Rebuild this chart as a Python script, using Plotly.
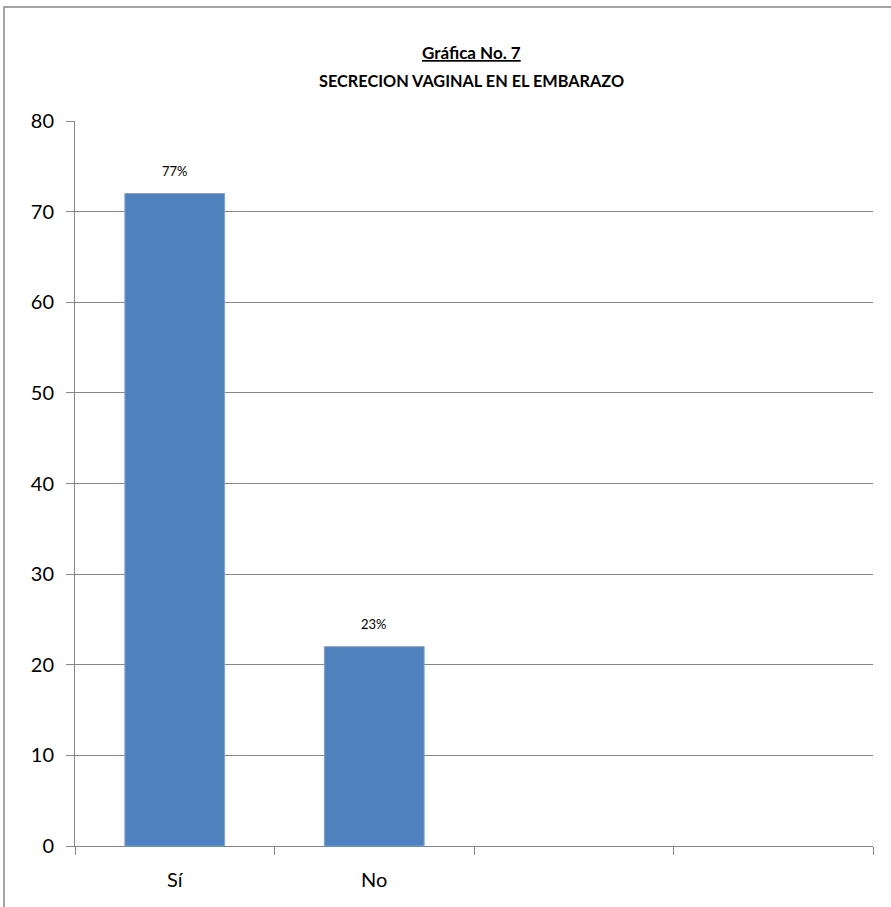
import plotly.graph_objects as go

categories = ["Sí", "No", " ", "  "]
bar_categories = ["Sí", "No"]
values = [72, 22]
pct_labels = ["77%", "23%"]
y_ticks = [0, 10, 20, 30, 40, 50, 60, 70, 80]

W, H = 891, 907
L, R, T, B = 75, 18, 121, 61
pw = W - L - R
ph = H - T - B

font_fam = "Lato, Open Sans, sans-serif"

fig = go.Figure()
fig.add_trace(go.Bar(
    x=bar_categories, y=values,
    marker=dict(color="#4F81BD", line=dict(color="#7FA3D3", width=1)),
    width=0.5, hoverinfo="skip",
))

for c, v, t in zip(bar_categories, values, pct_labels):
    fig.add_annotation(x=c, y=v, text=t, showarrow=False, yanchor="bottom",
                       yshift=13, font=dict(family=font_fam, size=13, color="#000"))

title_x = (471 - L) / pw
fig.add_annotation(xref="paper", yref="paper", x=title_x, y=1 + (T - 52) / ph,
                   text="<b><u>Gráfica No. 7</u></b>", showarrow=False, yanchor="middle",
                   font=dict(family=font_fam, size=17, color="#000"))
fig.add_annotation(xref="paper", yref="paper", x=title_x, y=1 + (T - 81) / ph,
                   text="<b>SECRECION VAGINAL EN EL EMBARAZO</b>", showarrow=False, yanchor="middle",
                   font=dict(family=font_fam, size=16.3, color="#000"))

# outer frame (chart area border, cut off at right and bottom)
fig.add_shape(type="rect", xref="paper", yref="paper",
              x0=(4 - L) / pw, x1=(W + 10 - L) / pw,
              y0=1 + (T - H - 10) / ph, y1=1 + (T - 7) / ph,
              line=dict(color="#868686", width=1.5), layer="below")

fig.update_layout(
    width=W, height=H,
    margin=dict(l=L, r=R, t=T, b=B, pad=0),
    paper_bgcolor="white", plot_bgcolor="white",
    showlegend=False,
    font=dict(family=font_fam, color="#000"),
    xaxis=dict(
        type="category", categoryorder="array", categoryarray=categories,
        range=[-0.5, 3.5], tickson="boundaries", ticks="outside", ticklen=8,
        tickcolor="#868686", showline=True, linecolor="#868686", linewidth=1,
        showgrid=False, tickfont=dict(size=20, family=font_fam), ticklabelstandoff=16,
        fixedrange=True,
    ),
    yaxis=dict(
        range=[0, 80], tickvals=y_ticks, ticks="outside", ticklen=8,
        tickcolor="#868686", showline=True, linecolor="#868686", linewidth=1,
        showgrid=True, gridcolor="#868686", gridwidth=1, zeroline=False,
        tickfont=dict(size=20, family=font_fam), ticklabelstandoff=8,
        fixedrange=True,
    ),
)

fig.write_html("out.html")
